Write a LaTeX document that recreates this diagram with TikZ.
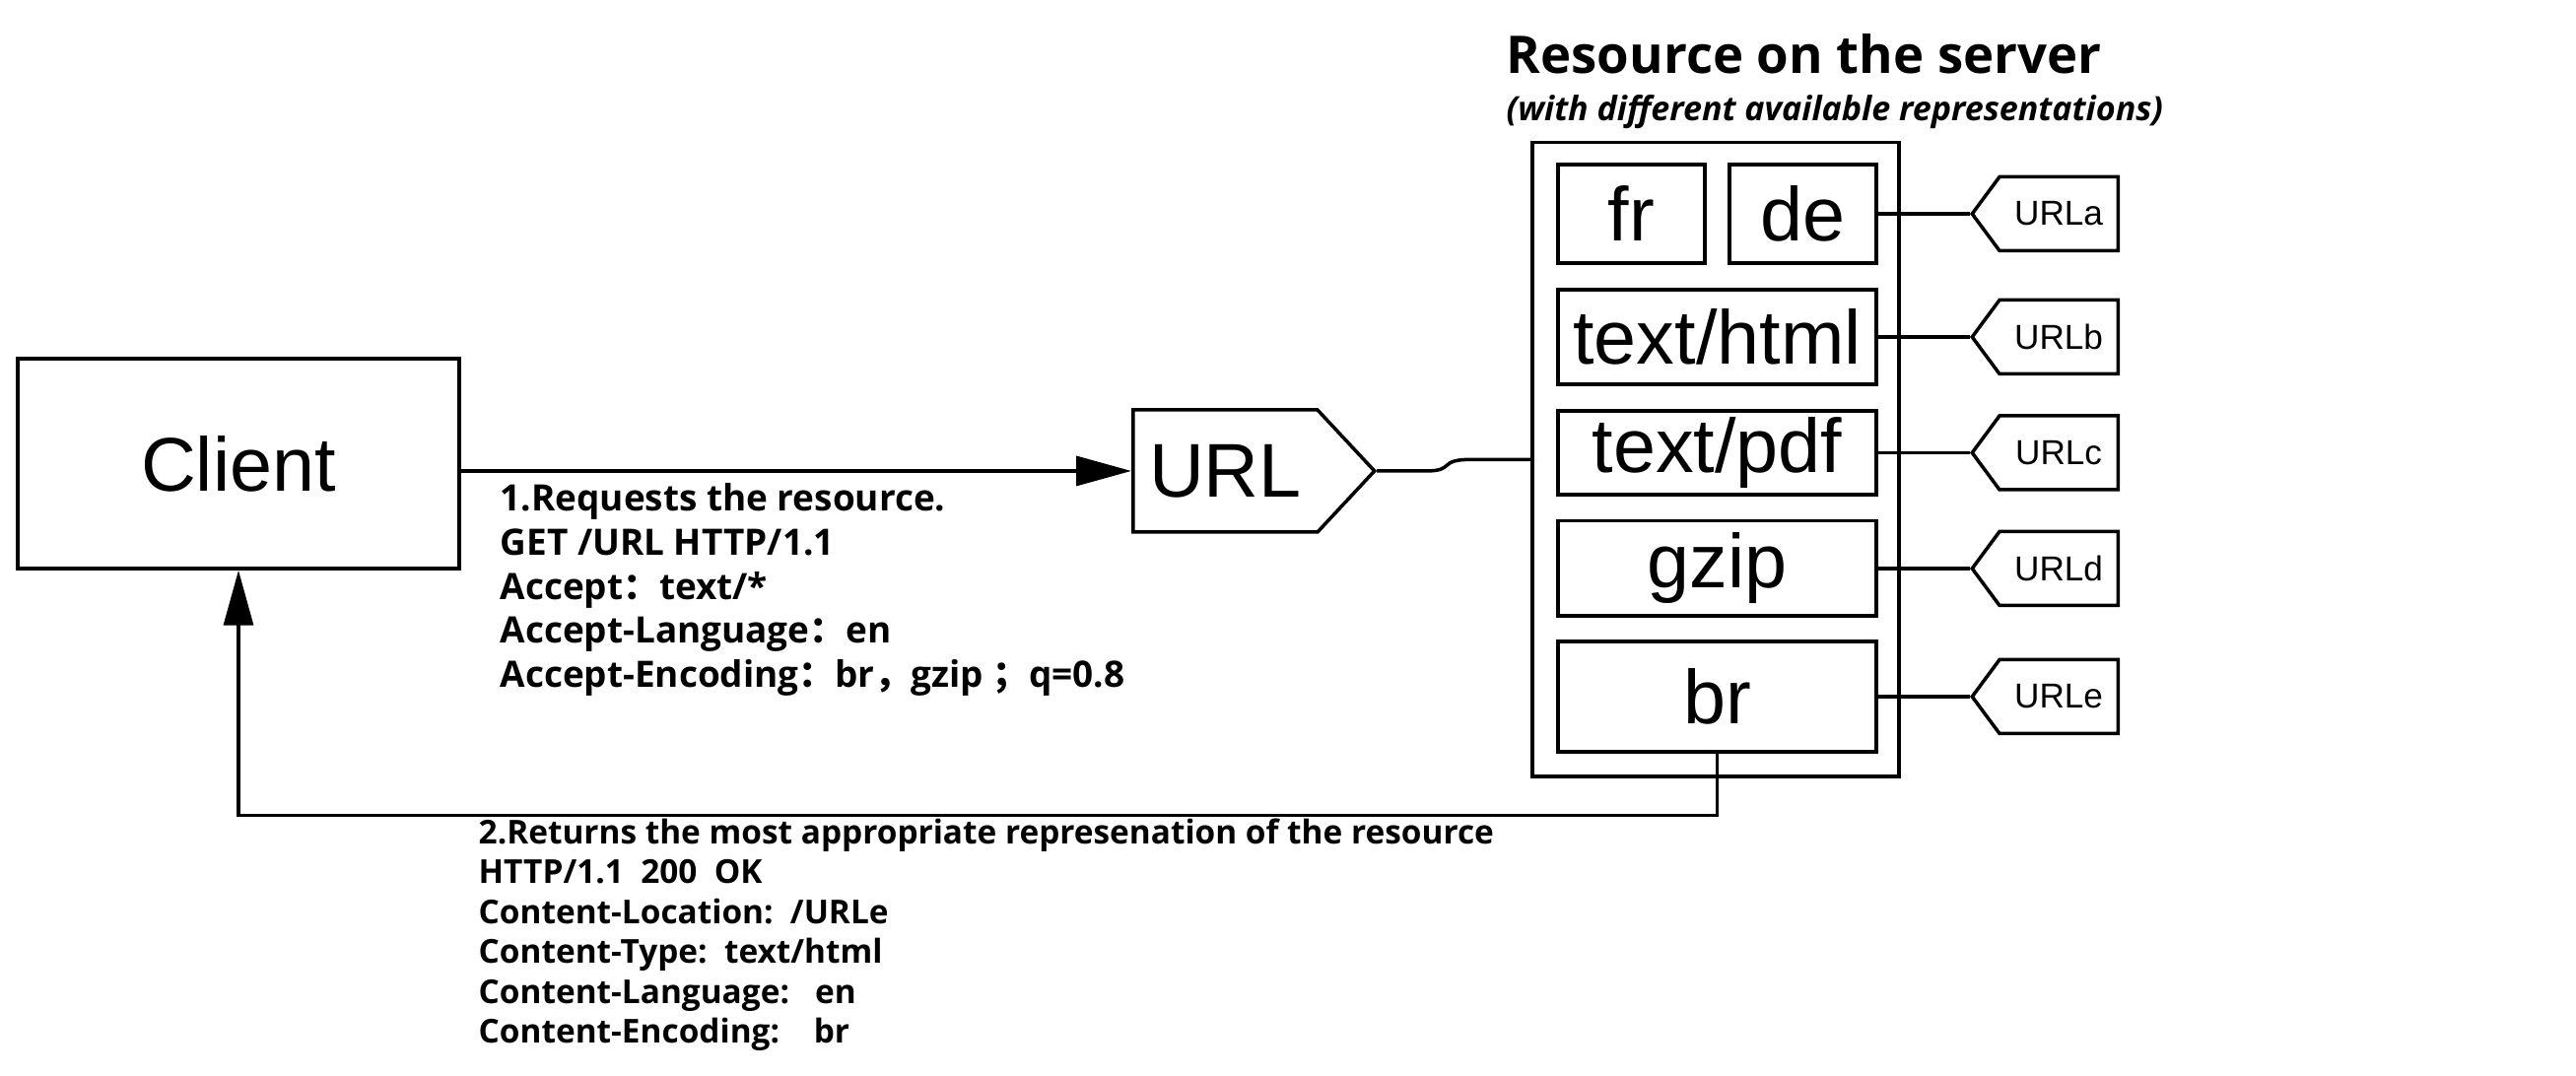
\documentclass[tikz,border=0pt]{standalone}
\usepackage{fontspec}
\setmainfont{Liberation Sans}
\newfontfamily\msgfont{Open Sans}
\newfontfamily\cjk{Noto Sans CJK SC}
\usepackage{tikz}
\usepackage{xcolor}
\usetikzlibrary{arrows.meta}
\usetikzlibrary{calc}
\usetikzlibrary{shapes.symbols}

\begin{document}
\begin{tikzpicture}[
  box/.style={draw, line width=1pt, inner sep=0pt, font=\fontsize{22}{26}\selectfont},
  tag/.style={draw, line width=1pt, signal, signal to=west, signal from=nowhere,
    signal pointer angle=107, inner sep=0pt, minimum width=1.48cm, minimum height=0.75cm,
    anchor=east, font=\fontsize{10}{12}\selectfont},
  msg/.style={anchor=base west, align=left, inner sep=0pt, font=\msgfont\bfseries\fontsize{10.5}{12.8}\selectfont},
  link/.style={line width=1pt},
  tip/.style={-{Triangle[length=0.56cm,width=0.3cm]}}
]
  \useasboundingbox (0,0) rectangle (26.14,10.92);

  \node (client) [box, minimum width=4.48cm, minimum height=2.13cm] at (2.42,6.215) {Client};
  \node (url) [box, signal, signal to=east, signal pointer angle=94,
    minimum width=2.45cm, minimum height=1.24cm, anchor=west] at (11.48,6.14) {URL};

  \node (srv) [draw, line width=1pt, minimum width=3.72cm, minimum height=6.435cm] at (17.41,6.257) {};
  \node (fr) [box, minimum width=1.49cm, minimum height=1cm] at (16.555,8.75) {fr};
  \node (de) [box, minimum width=1.49cm, minimum height=1cm] at (18.295,8.75) {de};
  \node (html) [box, minimum width=3.23cm, minimum height=0.96cm] at (17.425,7.50) {text/html};
  \node (pdf) [box, minimum width=3.23cm, minimum height=0.85cm] at (17.425,6.325) {text/pdf};
  \node (gzip) [box, minimum width=3.23cm, minimum height=0.965cm] at (17.425,5.15) {gzip};
  \node (br) [box, minimum width=3.23cm, minimum height=1.12cm] at (17.425,3.85) {br};

  \node (urla) [tag] at (21.51,0 |- de.east) {URLa};
  \node (urlb) [tag] at (21.51,0 |- html.east) {URLb};
  \node (urlc) [tag] at (21.51,0 |- pdf.east) {URLc};
  \node (urld) [tag] at (21.51,0 |- gzip.east) {URLd};
  \node (urle) [tag] at (21.51,0 |- br.east) {URLe};

  \node (title) [anchor=base west, inner sep=0pt, font=\msgfont\bfseries\fontsize{15}{18}\selectfont]
    at (15.28,10.17) {Resource on the server};
  \node (subtitle) [anchor=base west, inner sep=0pt, font=\msgfont\bfseries\itshape\fontsize{9.7}{11}\selectfont]
    at (15.28,9.69) {(with different available representations)};

  \node (req) [msg] at (5.07,3.94) {1.Requests the resource.\\
    GET /URL HTTP/1.1\\
    Accept{\cjk ：}text/*\\
    Accept-Language{\cjk ：}en\\
    Accept-Encoding{\cjk ：}br{\cjk ，}gzip {\cjk ；}q=0.8};
  \node (resp) [msg, font=\msgfont\bfseries\fontsize{9.5}{11.55}\selectfont] at (4.85,0.33)
    {2.Returns the most appropriate represenation of the resource\\
    HTTP/1.1~~200~~OK\\
    Content-Location:~~/URLe\\
    Content-Type:~~text/html\\
    Content-Language:~~~en\\
    Content-Encoding:~~~~br};

  \draw[link, tip] (client.east |- url.west) -- (url.west);
  \draw[link] (url.east) -- ++(0.5,0) .. controls +(0.3,0) and ($(srv.west)+(-0.95,0)$) .. ($(srv.west)+(-0.6,0)$) -- (srv.west);
  \draw[link] (de.east) -- (urla.west);
  \draw[link] (html.east) -- (urlb.west);
  \draw[link] (pdf.east) -- (urlc.west);
  \draw[link] (gzip.east) -- (urld.west);
  \draw[link] (br.east) -- (urle.west);
  \path (client.south) ++(0,-2.49) coordinate (turn);
  \draw[link, tip] (br.south) |- (turn) -- (client.south);
\end{tikzpicture}
\end{document}
